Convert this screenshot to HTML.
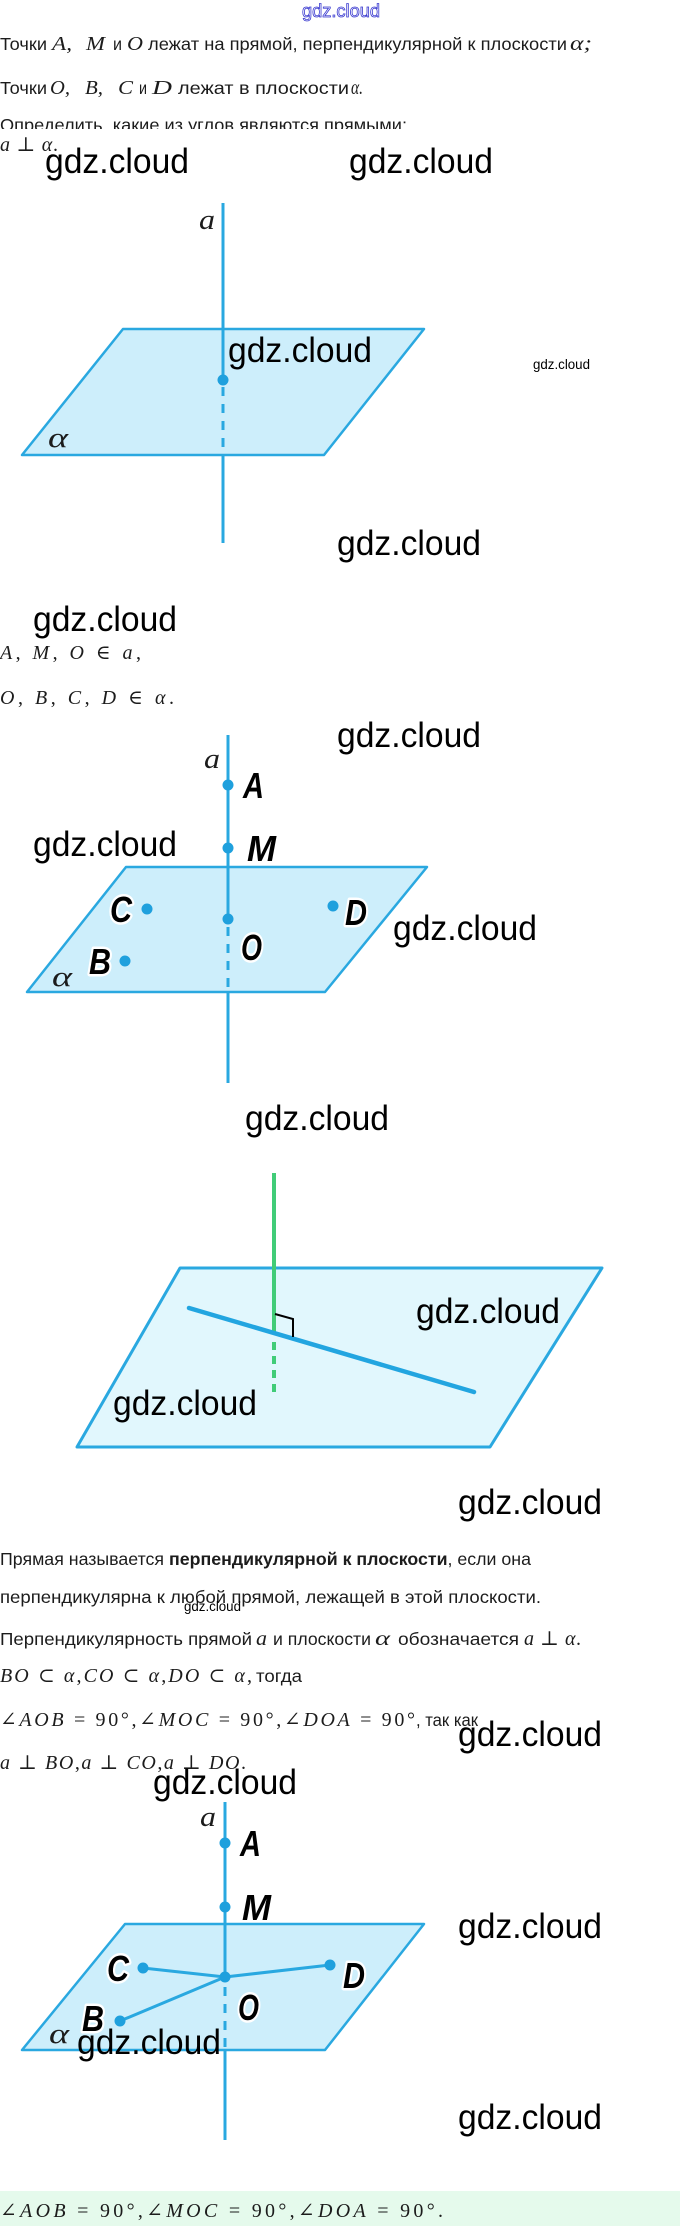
<!DOCTYPE html>
<html>
<head>
<meta charset="utf-8">
<style>
  html,body{margin:0;padding:0;background:#fff;}
  body{width:680px;height:2226px;overflow:hidden;}
  svg{display:block;}
  .t{font-family:"Liberation Sans",sans-serif;font-size:17.5px;fill:#1c1c1c;}
  .m{font-family:"Liberation Serif","DejaVu Serif",serif;font-size:20px;fill:#1c1c1c;}
  .i{font-style:italic;}
  .wm{font-family:"Liberation Sans",sans-serif;font-size:35px;fill:#000;}
  .wms{font-family:"Liberation Sans",sans-serif;font-size:14px;fill:#000;}
  .lbl{font-family:"Liberation Sans",sans-serif;font-weight:bold;font-style:italic;font-size:36px;fill:#000;stroke:#fff;stroke-width:5px;paint-order:stroke;stroke-linejoin:round;}
  .gl{font-family:"Liberation Serif",serif;font-style:italic;font-size:28px;fill:#1c1c1c;}
</style>
</head>
<body>
<svg width="680" height="2226" viewBox="0 0 680 2226" xmlns="http://www.w3.org/2000/svg">
  <!-- top watermark -->
  <text x="302" y="17" font-family="Liberation Sans, sans-serif" font-size="18" fill="#fff" stroke="#3b3bd0" stroke-width="0.8" textLength="78" lengthAdjust="spacingAndGlyphs">gdz.cloud</text>

  <!-- intro lines -->
  <text class="t" x="0" y="50" textLength="47" lengthAdjust="spacingAndGlyphs">Точки</text>
  <text class="m i" x="52" y="50" textLength="20" lengthAdjust="spacingAndGlyphs">A,</text>
  <text class="m i" x="86" y="50" textLength="19" lengthAdjust="spacingAndGlyphs">M</text>
  <text class="t" x="113" y="50" textLength="9" lengthAdjust="spacingAndGlyphs">и</text>
  <text class="m i" x="127" y="50" textLength="16" lengthAdjust="spacingAndGlyphs">O</text>
  <text class="t" x="148" y="50" textLength="419" lengthAdjust="spacingAndGlyphs">лежат на прямой, перпендикулярной к плоскости</text>
  <text class="m i" x="570" y="50" textLength="22" lengthAdjust="spacingAndGlyphs">α;</text>

  <text class="t" x="0" y="94" textLength="47" lengthAdjust="spacingAndGlyphs">Точки</text>
  <text class="m i" x="50" y="94" textLength="20" lengthAdjust="spacingAndGlyphs">O,</text>
  <text class="m i" x="85" y="94" textLength="18" lengthAdjust="spacingAndGlyphs">B,</text>
  <text class="m i" x="118" y="94" textLength="15" lengthAdjust="spacingAndGlyphs">C</text>
  <text class="t" x="139" y="94" textLength="8" lengthAdjust="spacingAndGlyphs">и</text>
  <text class="m i" x="152" y="94" textLength="20" lengthAdjust="spacingAndGlyphs">D</text>
  <text class="t" x="178" y="94" textLength="171" lengthAdjust="spacingAndGlyphs">лежат в плоскости</text>
  <text class="m i" x="351" y="94" textLength="12" lengthAdjust="spacingAndGlyphs">α.</text>

  <text class="t" x="0" y="131" textLength="407" lengthAdjust="spacingAndGlyphs">Определить, какие из углов являются прямыми:</text>
  <rect x="0" y="129" width="680" height="9" fill="#fff"/>
  <text class="m" x="0" y="151" textLength="58" lengthAdjust="spacing"><tspan class="i">a</tspan> ⊥ <tspan class="i">α</tspan>.</text>

  <!-- FIGURE 1 -->
  <polygon points="123,329 424,329 324,455 22,455" fill="#cdeefb" stroke="#2aa8e0" stroke-width="2.5" stroke-linejoin="round"/>
  <line x1="223" y1="203" x2="223" y2="382" stroke="#29a8e0" stroke-width="3"/>
  <line x1="223" y1="387" x2="223" y2="452" stroke="#29a8e0" stroke-width="3" stroke-dasharray="9,8"/>
  <line x1="223" y1="455" x2="223" y2="543" stroke="#29a8e0" stroke-width="3"/>
  <circle cx="223" cy="380" r="5.5" fill="#1fa0dd"/>
  <text class="gl" x="199" y="229" textLength="16" lengthAdjust="spacingAndGlyphs">a</text>
  <text class="gl" x="48" y="447" textLength="20" lengthAdjust="spacingAndGlyphs">α</text>

  <!-- middle math -->
  <text class="m" x="0" y="659" textLength="141" lengthAdjust="spacing"><tspan class="i">A</tspan>, <tspan class="i">M</tspan>, <tspan class="i">O</tspan> ∈ <tspan class="i">a</tspan>,</text>
  <text class="m" x="0" y="704" textLength="174" lengthAdjust="spacing"><tspan class="i">O</tspan>, <tspan class="i">B</tspan>, <tspan class="i">C</tspan>, <tspan class="i">D</tspan> ∈ <tspan class="i">α</tspan>.</text>

  <!-- FIGURE 2 -->
  <polygon points="126,867 427,867 325,992 27,992" fill="#cdeefb" stroke="#2aa8e0" stroke-width="2.5" stroke-linejoin="round"/>
  <line x1="228" y1="735" x2="228" y2="921" stroke="#29a8e0" stroke-width="3"/>
  <line x1="228" y1="927" x2="228" y2="989" stroke="#29a8e0" stroke-width="3" stroke-dasharray="9,8"/>
  <line x1="228" y1="992" x2="228" y2="1083" stroke="#29a8e0" stroke-width="3"/>
  <circle cx="228" cy="785" r="5.5" fill="#1fa0dd"/>
  <circle cx="228" cy="848" r="5.5" fill="#1fa0dd"/>
  <circle cx="228" cy="919" r="5.5" fill="#1fa0dd"/>
  <circle cx="147" cy="909" r="5.5" fill="#1fa0dd"/>
  <circle cx="333" cy="906" r="5.5" fill="#1fa0dd"/>
  <circle cx="125" cy="961" r="5.5" fill="#1fa0dd"/>
  <text class="gl" x="204" y="768" textLength="16" lengthAdjust="spacingAndGlyphs">a</text>
  <text class="gl" x="52" y="986" textLength="20" lengthAdjust="spacingAndGlyphs">α</text>
  <text class="lbl" x="243" y="798" textLength="21" lengthAdjust="spacingAndGlyphs">A</text>
  <text class="lbl" x="247" y="861" textLength="29" lengthAdjust="spacingAndGlyphs">M</text>
  <text class="lbl" x="110" y="922" textLength="22" lengthAdjust="spacingAndGlyphs">C</text>
  <text class="lbl" x="345" y="925" textLength="22" lengthAdjust="spacingAndGlyphs">D</text>
  <text class="lbl" x="241" y="960" textLength="21" lengthAdjust="spacingAndGlyphs">O</text>
  <text class="lbl" x="89" y="974" textLength="22" lengthAdjust="spacingAndGlyphs">B</text>

  <!-- FIGURE 3 -->
  <polygon points="180,1268 602,1268 490,1447 77,1447" fill="#e1f7fd" stroke="#2aa8e0" stroke-width="3" stroke-linejoin="round"/>
  <line x1="274" y1="1173" x2="274" y2="1334" stroke="#41cc78" stroke-width="4"/>
  <line x1="274" y1="1342" x2="274" y2="1398" stroke="#41cc78" stroke-width="4" stroke-dasharray="8,6"/>
  <line x1="189" y1="1308" x2="474" y2="1392" stroke="#22a5e0" stroke-width="4.5" stroke-linecap="round"/>
  <polyline points="275,1314 293,1319 293,1337" fill="none" stroke="#000" stroke-width="2"/>

  <!-- section text -->
  <text class="t" x="0" y="1565" textLength="531" lengthAdjust="spacingAndGlyphs">Прямая называется <tspan font-weight="bold">перпендикулярной к плоскости</tspan>, если она</text>
  <text class="t" x="0" y="1603" textLength="541" lengthAdjust="spacingAndGlyphs">перпендикулярна к любой прямой, лежащей в этой плоскости.</text>

  <text class="t" x="0" y="1645" textLength="252" lengthAdjust="spacingAndGlyphs">Перпендикулярность прямой</text>
  <text class="m i" x="256" y="1645" textLength="11" lengthAdjust="spacingAndGlyphs">a</text>
  <text class="t" x="273" y="1645" textLength="98" lengthAdjust="spacingAndGlyphs">и плоскости</text>
  <text class="m i" x="375" y="1645" textLength="15" lengthAdjust="spacingAndGlyphs">α</text>
  <text class="t" x="398" y="1645" textLength="121" lengthAdjust="spacingAndGlyphs">обозначается</text>
  <text class="m" x="524" y="1645" textLength="57" lengthAdjust="spacing"><tspan class="i">a</tspan> ⊥ <tspan class="i">α</tspan>.</text>

  <text class="m" x="0" y="1682" textLength="252" lengthAdjust="spacing"><tspan class="i">BO</tspan> ⊂ <tspan class="i">α</tspan>,<tspan class="i">CO</tspan> ⊂ <tspan class="i">α</tspan>,<tspan class="i">DO</tspan> ⊂ <tspan class="i">α</tspan>,</text>
  <text class="t" x="256" y="1682" textLength="46" lengthAdjust="spacingAndGlyphs">тогда</text>

  <text class="m" x="0" y="1726" textLength="415" lengthAdjust="spacing">∠<tspan class="i">AOB</tspan> = 90°,∠<tspan class="i">MOC</tspan> = 90°,∠<tspan class="i">DOA</tspan> = 90°</text>
  <text class="t" x="416" y="1726" textLength="62" lengthAdjust="spacingAndGlyphs">, так как</text>

  <text class="m" x="0" y="1769" textLength="246" lengthAdjust="spacing"><tspan class="i">a</tspan> ⊥ <tspan class="i">BO</tspan>,<tspan class="i">a</tspan> ⊥ <tspan class="i">CO</tspan>,<tspan class="i">a</tspan> ⊥ <tspan class="i">DO</tspan>.</text>

  <!-- FIGURE 4 -->
  <polygon points="125,1924 424,1924 325,2050 22,2050" fill="#cdeefb" stroke="#2aa8e0" stroke-width="2.5" stroke-linejoin="round"/>
  <line x1="225" y1="1802" x2="225" y2="1979" stroke="#29a8e0" stroke-width="3"/>
  <line x1="225" y1="1987" x2="225" y2="2047" stroke="#29a8e0" stroke-width="3" stroke-dasharray="9,8"/>
  <line x1="225" y1="2050" x2="225" y2="2140" stroke="#29a8e0" stroke-width="3"/>
  <line x1="143" y1="1968" x2="225" y2="1977" stroke="#29a8e0" stroke-width="3"/>
  <line x1="330" y1="1965" x2="225" y2="1977" stroke="#29a8e0" stroke-width="3"/>
  <line x1="120" y1="2021" x2="225" y2="1977" stroke="#29a8e0" stroke-width="3"/>
  <circle cx="225" cy="1843" r="5.5" fill="#1fa0dd"/>
  <circle cx="225" cy="1907" r="5.5" fill="#1fa0dd"/>
  <circle cx="225" cy="1977" r="5.5" fill="#1fa0dd"/>
  <circle cx="143" cy="1968" r="5.5" fill="#1fa0dd"/>
  <circle cx="330" cy="1965" r="5.5" fill="#1fa0dd"/>
  <circle cx="120" cy="2021" r="5.5" fill="#1fa0dd"/>
  <text class="gl" x="200" y="1826" textLength="16" lengthAdjust="spacingAndGlyphs">a</text>
  <text class="gl" x="49" y="2043" textLength="20" lengthAdjust="spacingAndGlyphs">α</text>
  <text class="lbl" x="240" y="1856" textLength="21" lengthAdjust="spacingAndGlyphs">A</text>
  <text class="lbl" x="242" y="1920" textLength="29" lengthAdjust="spacingAndGlyphs">M</text>
  <text class="lbl" x="107" y="1981" textLength="22" lengthAdjust="spacingAndGlyphs">C</text>
  <text class="lbl" x="343" y="1988" textLength="22" lengthAdjust="spacingAndGlyphs">D</text>
  <text class="lbl" x="238" y="2020" textLength="21" lengthAdjust="spacingAndGlyphs">O</text>
  <text class="lbl" x="82" y="2031" textLength="22" lengthAdjust="spacingAndGlyphs">B</text>

  <!-- bottom answer box -->
  <rect x="0" y="2191" width="680" height="35" fill="#e5faec"/>
  <text class="m" x="0" y="2217" font-size="21" textLength="443" lengthAdjust="spacing">∠<tspan class="i">AOB</tspan> = 90°,∠<tspan class="i">MOC</tspan> = 90°,∠<tspan class="i">DOA</tspan> = 90°.</text>

  <!-- watermarks -->
  <text class="wm" x="45" y="173" textLength="144" lengthAdjust="spacingAndGlyphs">gdz.cloud</text>
  <text class="wm" x="349" y="173" textLength="144" lengthAdjust="spacingAndGlyphs">gdz.cloud</text>
  <text class="wm" x="228" y="362" textLength="144" lengthAdjust="spacingAndGlyphs">gdz.cloud</text>
  <text class="wms" x="533" y="369" textLength="57" lengthAdjust="spacingAndGlyphs">gdz.cloud</text>
  <text class="wm" x="337" y="555" textLength="144" lengthAdjust="spacingAndGlyphs">gdz.cloud</text>
  <text class="wm" x="33" y="631" textLength="144" lengthAdjust="spacingAndGlyphs">gdz.cloud</text>
  <text class="wm" x="337" y="747" textLength="144" lengthAdjust="spacingAndGlyphs">gdz.cloud</text>
  <text class="wm" x="33" y="856" textLength="144" lengthAdjust="spacingAndGlyphs">gdz.cloud</text>
  <text class="wm" x="393" y="940" textLength="144" lengthAdjust="spacingAndGlyphs">gdz.cloud</text>
  <text class="wm" x="245" y="1130" textLength="144" lengthAdjust="spacingAndGlyphs">gdz.cloud</text>
  <text class="wm" x="416" y="1323" textLength="144" lengthAdjust="spacingAndGlyphs">gdz.cloud</text>
  <text class="wm" x="113" y="1415" textLength="144" lengthAdjust="spacingAndGlyphs">gdz.cloud</text>
  <text class="wm" x="458" y="1514" textLength="144" lengthAdjust="spacingAndGlyphs">gdz.cloud</text>
  <text class="wms" x="184" y="1611" textLength="57" lengthAdjust="spacingAndGlyphs">gdz.cloud</text>
  <text class="wm" x="458" y="1746" textLength="144" lengthAdjust="spacingAndGlyphs">gdz.cloud</text>
  <text class="wm" x="153" y="1794" textLength="144" lengthAdjust="spacingAndGlyphs">gdz.cloud</text>
  <text class="wm" x="458" y="1938" textLength="144" lengthAdjust="spacingAndGlyphs">gdz.cloud</text>
  <text class="wm" x="77" y="2054" textLength="144" lengthAdjust="spacingAndGlyphs">gdz.cloud</text>
  <text class="wm" x="458" y="2129" textLength="144" lengthAdjust="spacingAndGlyphs">gdz.cloud</text>
</svg>
</body>
</html>
